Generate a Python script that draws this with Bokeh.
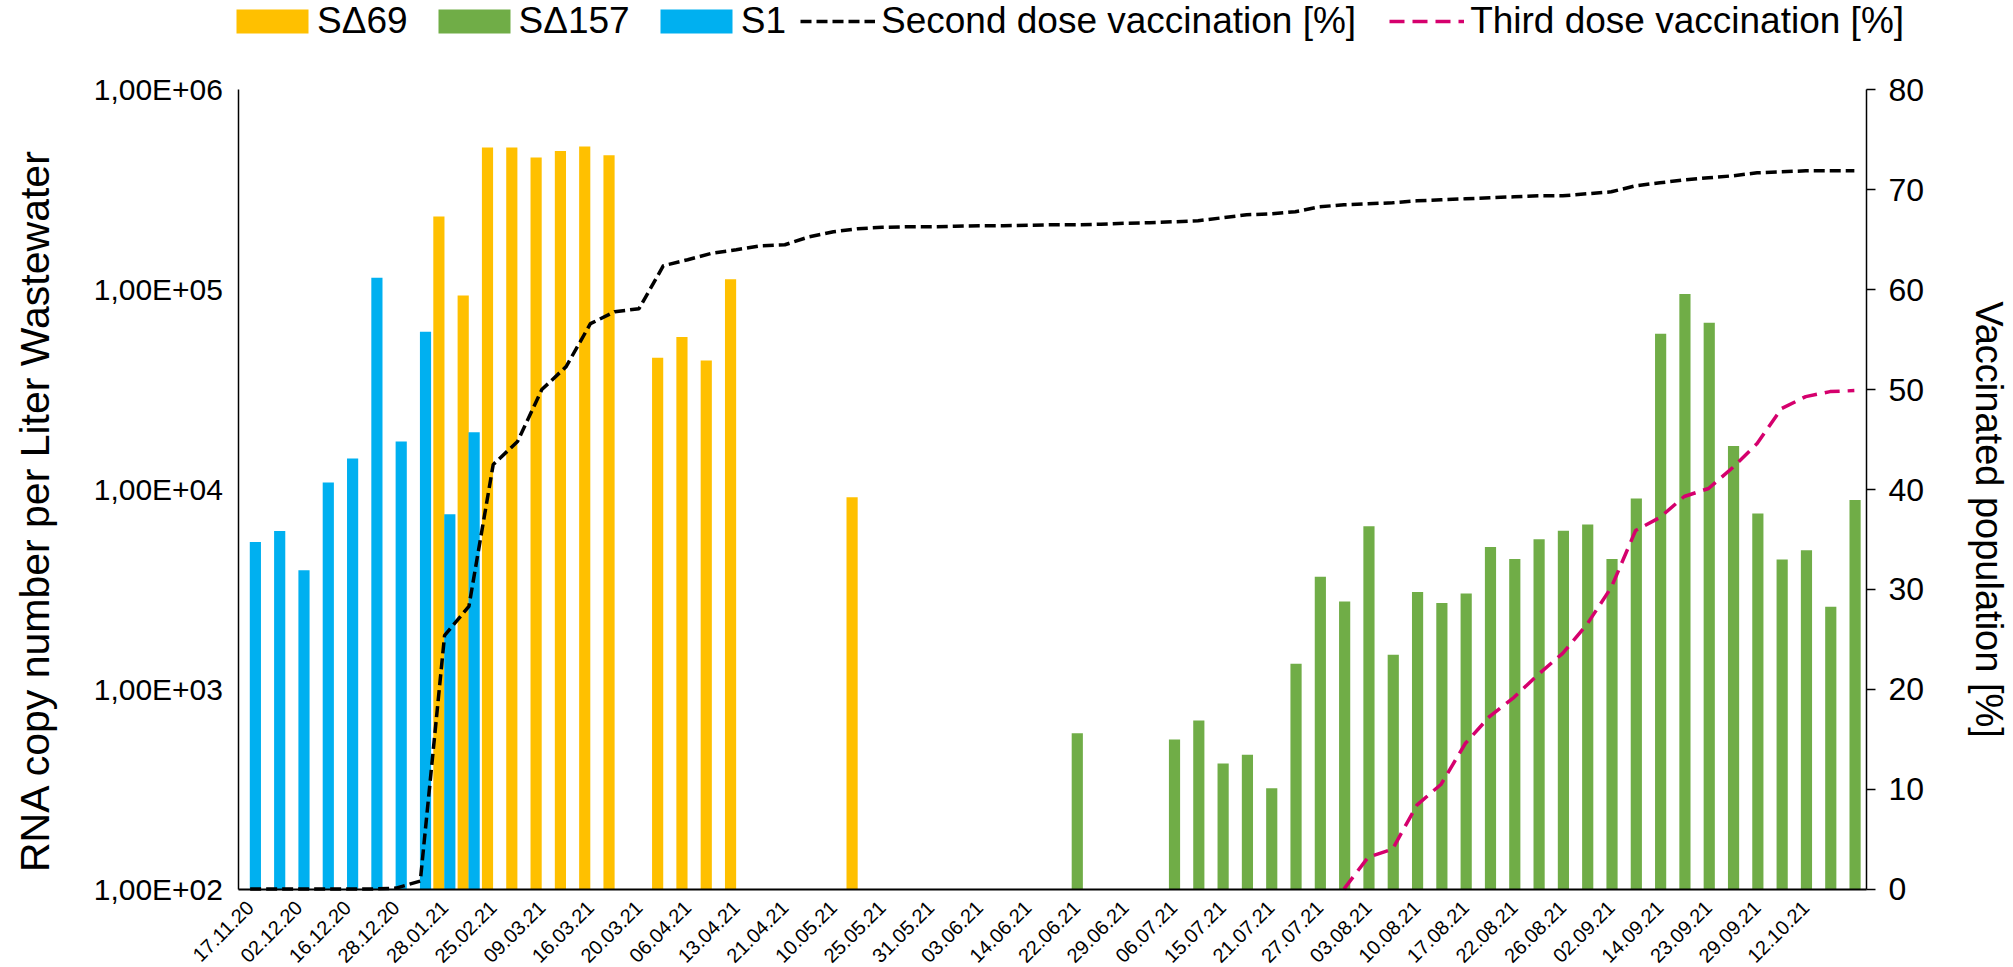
import math
from bokeh.plotting import figure
from bokeh.models import (Range1d, LinearAxis, LinearScale, FixedTicker, Legend,
                          LegendItem, Label)
from bokeh.embed import file_html
from bokeh.resources import INLINE

# ---------------- data ----------------
n_cats = 67
x_tick_positions = list(range(0, 65, 2))
x_tick_labels = ["17.11.20", "02.12.20", "16.12.20", "28.12.20", "28.01.21", "25.02.21",
                 "09.03.21", "16.03.21", "20.03.21", "06.04.21", "13.04.21", "21.04.21",
                 "10.05.21", "25.05.21", "31.05.21", "03.06.21", "14.06.21", "22.06.21",
                 "29.06.21", "06.07.21", "15.07.21", "21.07.21", "27.07.21", "03.08.21",
                 "10.08.21", "17.08.21", "22.08.21", "26.08.21", "02.09.21", "14.09.21",
                 "23.09.21", "29.09.21", "12.10.21"]

# RNA copy numbers per sample index
s1_idx = [0, 1, 2, 3, 4, 5, 6, 7, 8, 9]
s1_val = [5460, 6190, 3940, 10840, 14300, 114800, 17370, 61600, 7510, 19360]

sd69_idx = [8, 9, 10, 11, 12, 13, 14, 15, 17, 18, 19, 20, 25]
sd69_val = [232400, 93500, 515000, 515000, 459000, 494000, 521000, 471000,
            45600, 58000, 44200, 112700, 9150]

sd157_idx = [34] + list(range(38, 67))
sd157_val = [603, 561, 697, 425, 471, 320, 1343, 3654, 2754, 6555, 1489, 3069, 2704,
             3013, 5152, 4487, 5640, 6213, 6677, 4487, 9023, 60260, 95300, 68400,
             16490, 7580, 4458, 4970, 2592, 8870]

second_dose = [0, 0, 0, 0, 0, 0, 0.1, 0.8, 25.4, 28.3, 42.5, 44.8, 50.0, 52.3, 56.6,
               57.8, 58.1, 62.4, 63.0, 63.65, 64.0, 64.4, 64.5, 65.3, 65.8, 66.1, 66.25,
               66.3, 66.3, 66.35, 66.4, 66.4, 66.45, 66.5, 66.5, 66.55, 66.65, 66.7,
               66.8, 66.9, 67.2, 67.5, 67.6, 67.8, 68.3, 68.5, 68.6, 68.7, 68.9, 69.0,
               69.1, 69.2, 69.3, 69.4, 69.4, 69.6, 69.8, 70.4, 70.7, 71.0, 71.2, 71.4,
               71.7, 71.8, 71.9, 71.9, 71.9]

third_idx = list(range(45, 67))
third_dose = [0, 3.2, 4.0, 8.4, 10.5, 14.6, 17.3, 19.2, 21.5, 23.6, 26.5, 30.2, 35.9,
              37.2, 39.3, 40.1, 42.2, 44.6, 48.1, 49.3, 49.8, 49.9]

y_log_ticks = [1e2, 1e3, 1e4, 1e5, 1e6]
y_log_labels = ["1,00E+02", "1,00E+03", "1,00E+04", "1,00E+05", "1,00E+06"]
y2_ticks = [0, 10, 20, 30, 40, 50, 60, 70, 80]

left_title = "RNA copy number per Liter Wastewater"
right_title = "Vaccinated population [%]"
series_names = ["SΔ69", "SΔ157", "S1"]
line_names = ["Second dose vaccination [%]", "Third dose vaccination [%]"]

# ---------------- layout constants (pixels) ----------------
W, H = 2013, 967
FR_L, FR_R, FR_T, FR_B = 237.5, 1866.0, 89.4, 888.6   # plot-area box on the page
cat_px = (FR_R - FR_L) / n_cats
decade_px = (FR_B - FR_T) / 4.0
vacc_px = (FR_B - FR_T) / 80.0

x_lo = -0.5 - FR_L / cat_px
x_hi = -0.5 + (W - FR_L) / cat_px
y_lo = 10 ** (2 - (H - FR_B) / decade_px)
y_hi = 10 ** (6 + FR_T / decade_px)
v_lo = -(H - FR_B) / vacc_px
v_hi = 80 + FR_T / vacc_px

# ---------------- styling ----------------
FONT = "Liberation Sans"
C_69 = "#FFC000"
C_157 = "#70AD47"
C_S1 = "#00B0F0"
C_3RD = "#D5006D"
DASH2 = "11 5"
DASH3 = "15 8"
LW = 3.5

p = figure(width=W, height=H, x_range=Range1d(x_lo, x_hi),
           y_range=Range1d(y_lo, y_hi), y_axis_type="log",
           output_backend="svg", toolbar_location=None, title=None, min_border=0)
p.extra_y_ranges = {"vacc": Range1d(v_lo, v_hi)}
p.extra_y_scales = {"vacc": LinearScale()}
p.xgrid.visible = False
p.ygrid.visible = False
p.outline_line_color = None
p.background_fill_color = "white"
p.border_fill_color = "white"

bw = 0.46
r69 = p.vbar(x=[i - 0.235 for i in sd69_idx], top=sd69_val, bottom=100, width=bw,
             fill_color=C_69, line_color=None)
r157 = p.vbar(x=[i + 0.03 for i in sd157_idx], top=sd157_val, bottom=100, width=bw,
              fill_color=C_157, line_color=None)
rs1 = p.vbar(x=[i + 0.215 for i in s1_idx], top=s1_val, bottom=100, width=bw,
             fill_color=C_S1, line_color=None)
r2 = p.line(x=list(range(n_cats)), y=second_dose, y_range_name="vacc",
            line_color="black", line_width=LW, line_dash=DASH2)
r3 = p.line(x=third_idx, y=third_dose, y_range_name="vacc",
            line_color=C_3RD, line_width=LW, line_dash=DASH3)

# x axis, pinned to the bottom of the plot area
xa = p.xaxis[0]
xa.fixed_location = 100
xa.bounds = (-0.5, n_cats - 0.5)
xa.ticker = FixedTicker(ticks=x_tick_positions)
xa.major_label_overrides = {pos: lab for pos, lab in zip(x_tick_positions, x_tick_labels)}
xa.major_label_orientation = math.pi / 4
xa.major_label_text_font = FONT
xa.major_label_text_font_size = "20px"
xa.major_label_text_color = "black"
xa.major_tick_line_color = None
xa.minor_tick_line_color = None
xa.axis_line_color = "black"
xa.axis_line_width = 2
xa.major_label_standoff = 9

# left log axis
ya = p.yaxis[0]
ya.fixed_location = -0.5
ya.bounds = (100, 1e6)
ya.ticker = FixedTicker(ticks=y_log_ticks)
ya.major_label_overrides = {t: lab for t, lab in zip(y_log_ticks, y_log_labels)}
ya.major_label_text_font = FONT
ya.major_label_text_font_size = "30px"
ya.major_label_text_color = "black"
ya.major_tick_line_color = None
ya.minor_tick_line_color = None
ya.axis_line_color = "black"
ya.axis_line_width = 1.5
ya.major_label_standoff = 9

# right axis
ra = LinearAxis(y_range_name="vacc", ticker=FixedTicker(ticks=y2_ticks),
                fixed_location=n_cats - 0.5, bounds=(0, 80))
ra.major_label_text_font = FONT
ra.major_label_text_font_size = "32px"
ra.major_label_text_color = "black"
ra.major_tick_out = 9
ra.major_tick_in = 0
ra.major_tick_line_width = 1.5
ra.minor_tick_line_color = None
ra.axis_line_color = "black"
ra.axis_line_width = 1.5
ra.major_label_standoff = 13
p.add_layout(ra, "right")

# axis titles (screen px, origin bottom-left of the canvas)
p.add_layout(Label(x=34, y=H - 510, x_units="screen", y_units="screen", text=left_title,
                   angle=math.pi / 2, angle_units="rad", text_align="center",
                   text_baseline="middle", text_font=FONT, text_font_size="41px",
                   text_color="black"))
p.add_layout(Label(x=1988, y=H - 519, x_units="screen", y_units="screen",
                   text=right_title, angle=-math.pi / 2, angle_units="rad",
                   text_align="center", text_baseline="middle", text_font=FONT,
                   text_font_size="38px", text_color="black"))

legend_bars = Legend(items=[LegendItem(label=series_names[0], renderers=[r69]),
                            LegendItem(label=series_names[1], renderers=[r157]),
                            LegendItem(label=series_names[2], renderers=[rs1])],
                     orientation="horizontal", location=(227, H - 42),
                     glyph_width=90, glyph_height=30, label_height=30,
                     label_standoff=-4, spacing=21,
                     padding=0, margin=0, border_line_color=None,
                     background_fill_alpha=0,
                     label_text_font=FONT, label_text_font_size="37px",
                     label_text_color="black")
legend_lines = Legend(items=[LegendItem(label=line_names[0], renderers=[r2]),
                             LegendItem(label=line_names[1], renderers=[r3])],
                      orientation="horizontal", location=(800, H - 42),
                      glyph_width=75, glyph_height=30, label_height=30,
                      label_standoff=6, spacing=33,
                      padding=0, margin=0, border_line_color=None,
                      background_fill_alpha=0,
                      label_text_font=FONT, label_text_font_size="37px",
                      label_text_color="black")
p.add_layout(legend_bars, "center")
p.add_layout(legend_lines, "center")

open("out.html", "w").write(file_html(p, INLINE))
